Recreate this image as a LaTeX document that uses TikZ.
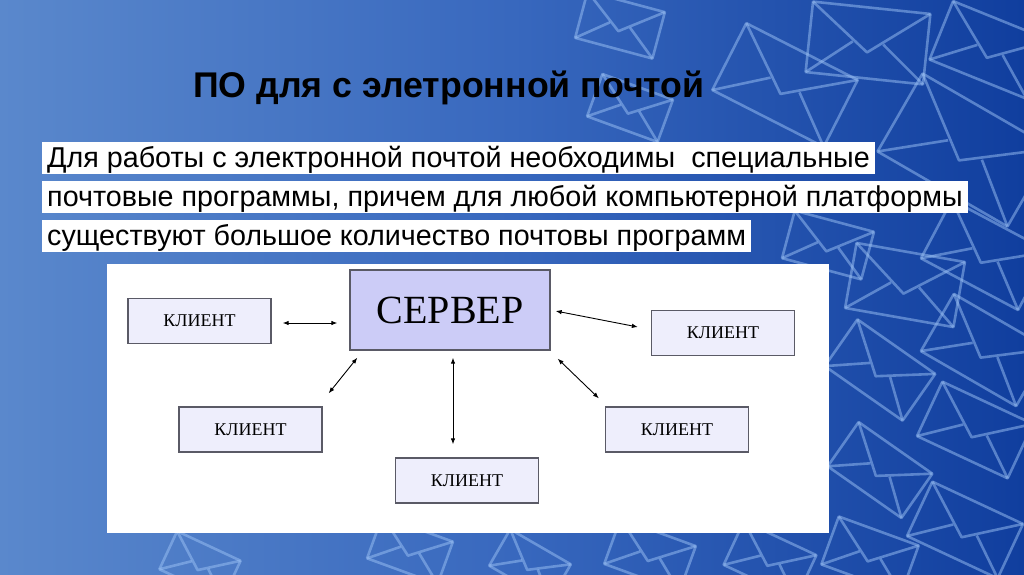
\documentclass[tikz,border=0pt]{standalone}
\usepackage{fontspec}
\setmainfont{Liberation Sans}
\newfontfamily\serifcyr{Liberation Serif}
\usetikzlibrary{arrows.meta}
\definecolor{bgL}{HTML}{5A88CC}
\definecolor{bgM}{HTML}{3868BE}
\definecolor{bgR}{HTML}{103E9E}
\definecolor{envc}{HTML}{9CC2F5}
\definecolor{srvfill}{HTML}{CCCCF7}
\definecolor{clfill}{HTML}{EEEEFC}
\definecolor{bordc}{HTML}{5A5A66}
\tikzset{
  envstroke/.style={draw=envc, line width=2.6pt, line join=round, opacity=0.5},
  envl/.pic={
    \draw[envstroke] (-0.5,-0.3) rectangle (0.5,0.3);
    \draw[envstroke] (-0.5,-0.3) -- (0,0.08) -- (0.5,-0.3);
    \draw[envstroke] (-0.5,0.3) -- (-0.13,0);
    \draw[envstroke] (0.5,0.3) -- (0.13,0);
  },
  textline/.style={fill=white, inner xsep=5pt, inner ysep=0pt, anchor=base west,
    font=\fontsize{28.7}{28.7}\selectfont, text height=25pt, text depth=6.5pt},
  client/.style={draw=bordc, line width=1.3pt, fill=clfill, minimum width=143pt,
    minimum height=45pt, inner sep=0pt, font=\serifcyr\fontsize{18}{18}\selectfont},
  server/.style={draw=bordc, line width=1.3pt, fill=srvfill, minimum width=200pt,
    minimum height=80pt, inner sep=0pt, font=\serifcyr\fontsize{40}{40}\selectfont},
  arr/.style={line width=0.9pt, {Latex[length=6pt,width=4.5pt]}-{Latex[length=6pt,width=4.5pt]}}
}
\begin{document}
\begin{tikzpicture}[x=1pt,y=-1pt]
\useasboundingbox (0,0) rectangle (1024,574);
\shade[left color=bgL, right color=bgR, middle color=bgM] (0,0) rectangle (1024,574);
% envelopes
\pic[rotate=-6, scale=118] at (868,43) {envl};
\pic[rotate=-22, scale=105] at (990,50) {envl};
\pic[rotate=-27, scale=125] at (785,85) {envl};
\pic[rotate=-30, scale=150] at (965,150) {envl};
\pic[rotate=-20, scale=75] at (630,108) {envl};
\pic[rotate=-15, scale=80] at (620,25) {envl};
\pic[rotate=-15, scale=82] at (828,245) {envl};
\pic[rotate=-28, scale=110] at (985,255) {envl};
\pic[rotate=-10, scale=110] at (905,285) {envl};
\pic[rotate=-35, scale=95] at (880,370) {envl};
\pic[rotate=-30, scale=110] at (985,350) {envl};
\pic[rotate=-25, scale=100] at (975,430) {envl};
\pic[rotate=-35, scale=90] at (880,470) {envl};
\pic[rotate=-25, scale=100] at (965,530) {envl};
\pic[rotate=-20, scale=85] at (870,555) {envl};
\pic[rotate=-25, scale=70] at (200,565) {envl};
\pic[rotate=-20, scale=75] at (410,550) {envl};
\pic[rotate=-30, scale=70] at (530,565) {envl};
\pic[rotate=-20, scale=80] at (650,555) {envl};
\pic[rotate=-25, scale=80] at (770,560) {envl};
% title
\node[anchor=base west, inner sep=0pt, font=\bfseries\fontsize{35.7}{35.7}\selectfont] (title) at (193,97) {ПО для с элетронной почтой};
% text lines
\node[textline] (l1) at (42,167) {Для работы с электронной почтой необходимы~ специальные};
\node[textline] (l2) at (42,206) {почтовые программы, причем для любой компьютерной платформы};
\node[textline] (l3) at (42,245) {существуют большое количество почтовы программ};
% panel
\fill[white] (107,264) rectangle (829,533);
% diagram
\node[server] (srv) at (450,310) {СЕРВЕР};
\node[client] (c1) at (199.5,321) {КЛИЕНТ};
\node[client] (c2) at (723,333) {КЛИЕНТ};
\node[client] (c3) at (250.5,429.5) {КЛИЕНТ};
\node[client] (c4) at (467,480.5) {КЛИЕНТ};
\node[client] (c5) at (677,429.5) {КЛИЕНТ};
\draw[arr] ([shift={(11,2)}]c1.east) -- ([shift={(-12,13)}]srv.west);
\draw[arr] ([shift={(5,1)}]srv.east) -- ([shift={(-13,-6)}]c2.west);
\draw[arr] ([shift={(8,7)}]srv.south west) -- ([shift={(6,-13)}]c3.north east);
\draw[arr] ([shift={(3,7)}]srv.south) -- ([shift={(-14,-13)}]c4.north);
\draw[arr] ([shift={(7,8)}]srv.south east) -- ([shift={(-6,-8)}]c5.north west);
\end{tikzpicture}
\end{document}
